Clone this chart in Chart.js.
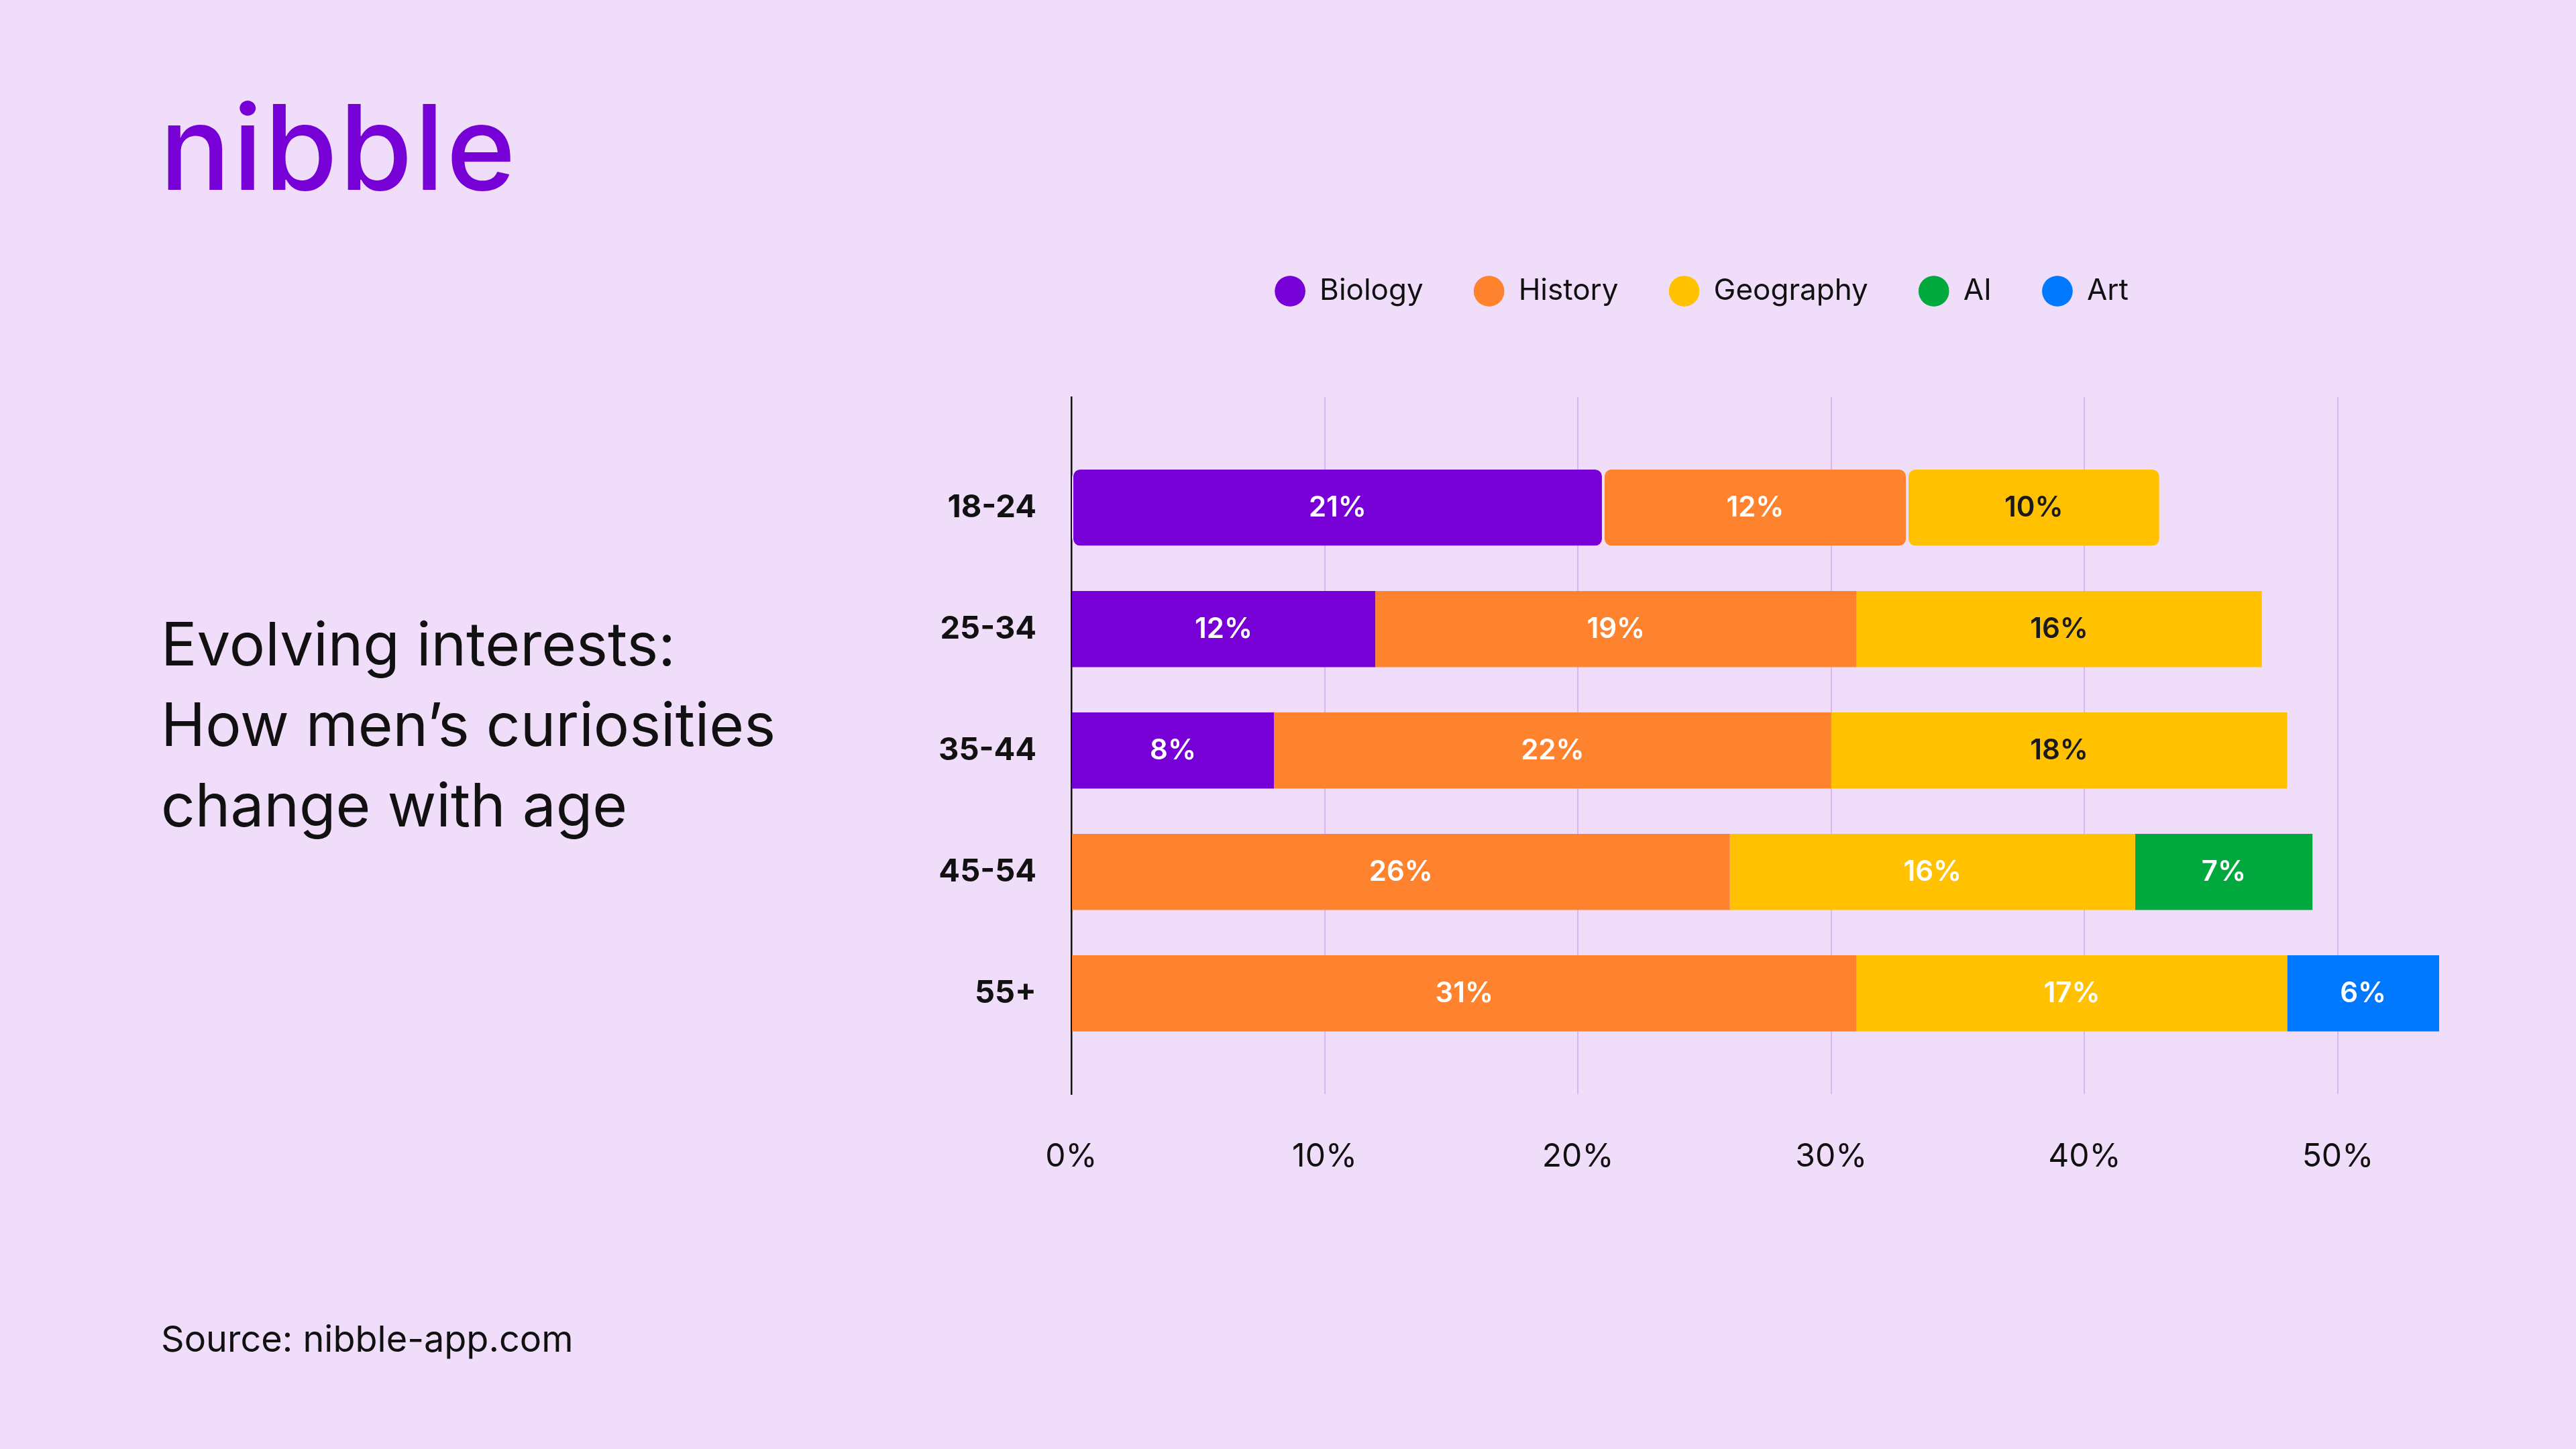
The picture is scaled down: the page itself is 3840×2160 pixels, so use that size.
<!DOCTYPE html>
<html>
<head>
<meta charset="utf-8">
<script src="https://cdn.jsdelivr.net/npm/chart.js@4.4.0/dist/chart.umd.min.js"></script>
<style>
  html, body { margin: 0; padding: 0; }
  body {
    width: 3840px; height: 2160px; position: relative; overflow: hidden;
    background: #EFDDF9; font-family: Inter, "Noto Sans", sans-serif; color: #111;
  }
  .logo {
    position: absolute; left: 238px; top: 131px;
    font-size: 176px; font-weight: 500; line-height: 1; letter-spacing: 3px; color: #7700D6;
  }
  .title {
    position: absolute; left: 240px; top: 900px;
    font-size: 89px; line-height: 120px; font-weight: 400;
  }
  .source {
    position: absolute; left: 240px; top: 1969px;
    font-size: 54px; line-height: 1;
  }
  #chart { position: absolute; left: 1300px; top: 336px; }
</style>
</head>
<body>
<div class="logo">nibble</div>
<div class="title">Evolving interests:<br>How men’s curiosities<br>change with age</div>
<div class="source">Source: nibble-app.com</div>
<canvas id="chart" width="2476" height="1444"></canvas>
<script>
// age groups, top to bottom
const ageGroups = ["18-24", "25-34", "35-44", "45-54", "55+"];
const topics = ["Biology", "History", "Geography", "AI", "Art"];

// share of interest in %, null where the topic is not in the group's top list
const biology = [21, 12, 8, null, null];
const history = [12, 19, 22, 26, 31];
const geography = [10, 16, 18, 16, 17];
const ai = [null, null, null, 7, null];
const art = [null, null, null, null, 6];

const xTicks = [0, 10, 20, 30, 40, 50];
const xMax = 54;

const colors = ["#7700D6", "#FF832E", "#FFC100", "#00A83E", "#0078FF"];
const bg = "#EFDDF9";

const series = [biology, history, geography, ai, art];

// dark text on yellow for the first three groups, white everywhere else
function labelColor(datasetIndex, dataIndex) {
  return datasetIndex === 2 && dataIndex < 3 ? "#1a1a1a" : "#ffffff";
}

const barLabels = {
  id: "barLabels",
  afterDatasetsDraw(chart) {
    const { ctx } = chart;
    ctx.save();
    ctx.font = "600 42px Inter";
    ctx.textAlign = "center";
    ctx.textBaseline = "middle";
    chart.data.datasets.forEach((ds, di) => {
      chart.getDatasetMeta(di).data.forEach((bar, i) => {
        const v = ds.data[i].x;
        if (v == null) return;
        ctx.fillStyle = labelColor(di, i);
        ctx.fillText(v + "%", (bar.x + bar.base) / 2, bar.y + 1);
      });
    });
    ctx.restore();
  },
};

// leave room between the legend and the plot
const legendGap = {
  id: "legendGap",
  beforeInit(chart) {
    const fit = chart.legend.fit;
    chart.legend.fit = function () {
      fit.call(this);
      this.height += 126;
    };
  },
};

new Chart(document.getElementById("chart"), {
  type: "bar",
  data: {
    datasets: topics.map((name, k) => ({
      label: name,
      data: series[k].map((v, i) => ({ x: v, y: i })),
      backgroundColor: colors[k],
      borderColor: bg,
      borderWidth: (c) => (c.dataIndex === 0 ? { left: 2, right: 2, top: 0, bottom: 0 } : 0),
      borderRadius: (c) =>
        c.dataIndex === 0 ? { topLeft: 12, topRight: 12, bottomLeft: 12, bottomRight: 12 } : 0,
      borderSkipped: false,
      barPercentage: 0.627,
      categoryPercentage: 1,
    })),
  },
  options: {
    indexAxis: "y",
    responsive: false,
    animation: false,
    devicePixelRatio: 1,
    layout: { padding: { left: 0, right: 2, top: 0, bottom: 0 } },
    scales: {
      x: {
        type: "linear",
        stacked: true,
        min: 0,
        max: xMax,
        afterBuildTicks: (s) => {
          s.ticks = xTicks.map((v) => ({ value: v }));
        },
        afterFit: (s) => {
          s.height = 149;
        },
        grid: {
          color: (c) => (c.tick && c.tick.value === 0 ? "rgba(0,0,0,0)" : "#D9B6F3"),
          lineWidth: 2,
          drawTicks: false,
        },
        border: { display: false },
        ticks: {
          padding: 65,
          color: "#111",
          font: { family: "Inter", size: 48 },
          callback: (v) => v + "%",
        },
      },
      y: {
        type: "linear",
        stacked: true,
        reverse: true,
        offset: false,
        min: -0.91,
        max: 4.83,
        afterBuildTicks: (s) => {
          s.ticks = ageGroups.map((_, i) => ({ value: i }));
        },
        afterFit: (s) => {
          s.width = 297;
        },
        grid: { display: false, drawTicks: false },
        border: { display: true, color: "#111", width: 2.5 },
        ticks: {
          padding: 52,
          color: "#111",
          font: { family: "Inter", size: 47, weight: "700" },
          callback: (v) => ageGroups[v],
        },
      },
      // empty right-hand spacer so the legend centres like the original
      spacer: {
        type: "linear",
        position: "right",
        grid: { display: false },
        border: { display: false },
        ticks: { display: false },
        afterFit: (s) => {
          s.width = 138;
        },
      },
    },
    plugins: {
      legend: {
        position: "top",
        labels: {
          usePointStyle: true,
          pointStyle: "circle",
          boxWidth: 44,
          boxHeight: 33,
          padding: 76,
          color: "#111",
          font: { family: "Inter", size: 44 },
        },
      },
      tooltip: { enabled: false },
    },
  },
  plugins: [barLabels, legendGap],
});
</script>
</body>
</html>
